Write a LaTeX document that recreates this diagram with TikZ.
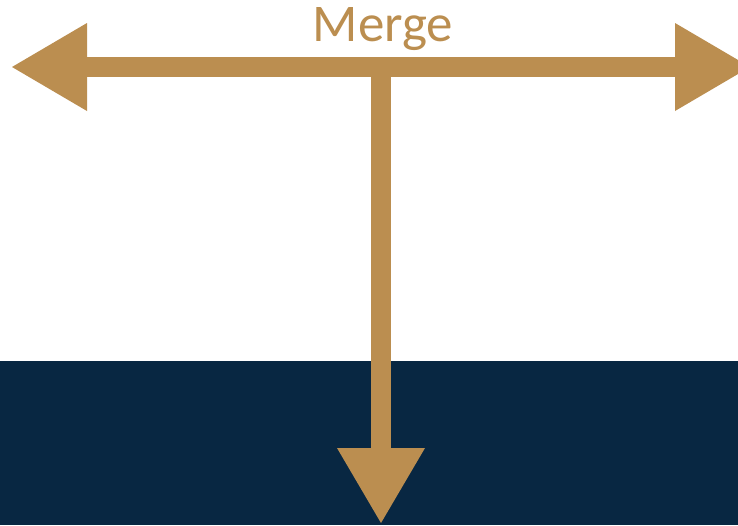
\documentclass[tikz,border=0pt]{standalone}
\usepackage{fontspec}
\setmainfont{Carlito}
\usetikzlibrary{arrows.meta}
\definecolor{gold}{RGB}{187,142,80}
\definecolor{navy}{RGB}{8,39,66}
\tikzset{
  bigtip/.tip={Triangle[length=56.25pt,width=66pt,line width=0pt]},
  shaft/.style={draw=gold,fill=gold,line width=15pt},
}
\begin{document}
\begin{tikzpicture}[x=0.75pt,y=-0.75pt]
      \useasboundingbox (0,0) rectangle (738,525);
      \fill[navy] (0,361) rectangle (738,525);
      \coordinate (west) at (12,67);
      \coordinate (east) at (750,67);
      \coordinate (mid) at (381,67);
      \coordinate (south) at (381,523);
      \node[anchor=base,text=gold,inner sep=0pt,font=\fontsize{39.75}{40}\selectfont] (title) at (383,41) {Merge};
      \begin{scope}[shaft]
        \draw[bigtip-bigtip] (west) to (east);
        \draw[-bigtip] (mid) to (south);
      \end{scope}
    \end{tikzpicture}
\end{document}
